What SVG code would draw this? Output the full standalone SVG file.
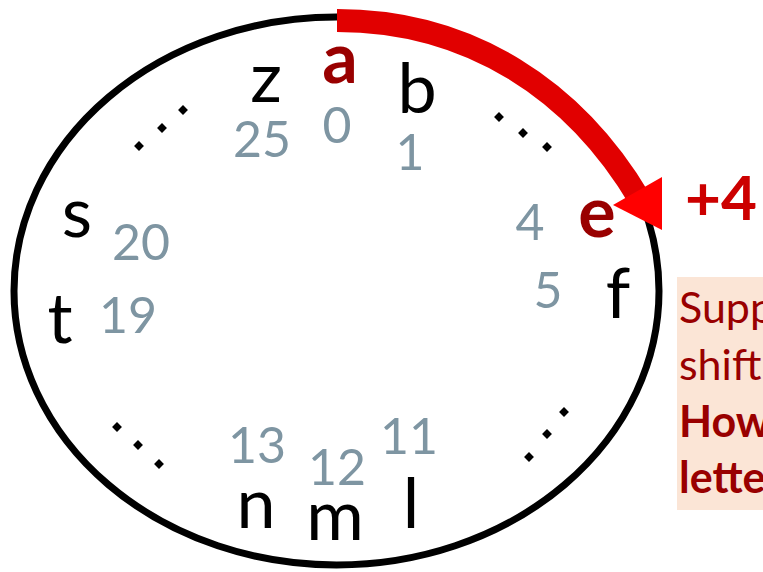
<svg xmlns="http://www.w3.org/2000/svg" width="763" height="572" viewBox="0 0 763 572">
<style>
text{font-family:Lato,"Open Sans","Liberation Sans",sans-serif;text-anchor:middle}
.let{font-size:70px;fill:#000}
.num{font-size:50px;fill:#7E95A2}
.hl{font-size:70px;font-weight:bold;fill:#990000}
.box{font-size:43px;fill:#990000;text-anchor:start}
.b{font-weight:bold}
.dot{fill:#000}
</style>
<defs>
<rect id="d" x="-3.5" y="-3.5" width="7" height="7" transform="rotate(45)"/>
</defs>
<rect width="763" height="572" fill="#fff"/>
<g id="wheel">
<ellipse cx="336.5" cy="291" rx="322.5" ry="274" fill="none" stroke="#000" stroke-width="7"/>
</g>
<g id="connectors">
<path d="M337,20.5 C470,20.5 575,90 640,200" fill="none" stroke="#E10000" stroke-width="23"/>
<polygon points="662,177 613,205 662,230" fill="#FF0000"/>
</g>
<g id="dots" class="dot">
<use href="#d" x="139" y="146"/><use href="#d" x="162" y="128"/><use href="#d" x="183" y="110"/>
<use href="#d" x="499" y="117"/><use href="#d" x="523" y="133"/><use href="#d" x="547" y="147"/>
<use href="#d" x="117" y="427"/><use href="#d" x="138" y="445"/><use href="#d" x="159" y="464"/>
<use href="#d" x="529" y="457"/><use href="#d" x="547" y="434"/><use href="#d" x="564" y="412"/>
</g>
<g id="node-a"><text class="hl" x="340" y="83">a</text><text class="num" x="337" y="143">0</text></g>
<g id="node-b"><text class="let" x="417" y="113">b</text><text class="num" x="410" y="170">1</text></g>
<g id="node-e"><text class="hl" x="597" y="237">e</text><text class="num" x="530" y="240">4</text></g>
<g id="node-f"><text class="let" x="618" y="318">f</text><text class="num" x="548" y="308">5</text></g>
<g id="node-l"><text class="let" x="411" y="528">l</text><text class="num" x="409" y="454">11</text></g>
<g id="node-m"><text class="let" x="335" y="540">m</text><text class="num" x="337" y="485">12</text></g>
<g id="node-n"><text class="let" x="256" y="528">n</text><text class="num" x="257" y="463">13</text></g>
<g id="node-t"><text class="let" x="60" y="343">t</text><text class="num" x="128" y="333">19</text></g>
<g id="node-s"><text class="let" x="77" y="237">s</text><text class="num" x="141" y="260">20</text></g>
<g id="node-z"><text class="let" x="266" y="102">z</text><text class="num" x="262" y="157">25</text></g>
<g id="shift-label"><text x="685" y="220" style="font-size:62px;font-weight:bold;fill:#CC0000;text-anchor:start">+4</text></g>
<g id="note">
<rect x="677" y="277" width="100" height="233" fill="#FBE5D6"/>
<text class="box" x="679" y="323">Supp</text>
<text class="box" x="679" y="380">shift</text>
<text class="box b" x="679" y="437">How</text>
<text class="box b" x="679" y="493">lette</text>
</g>
</svg>
